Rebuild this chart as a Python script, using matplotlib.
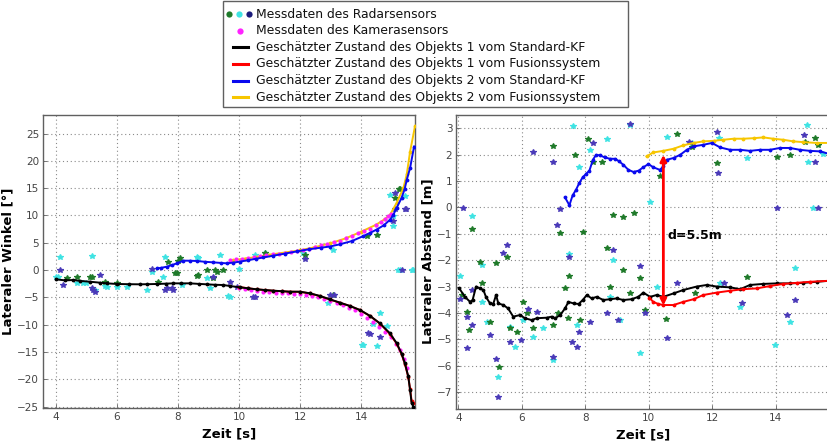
import matplotlib
matplotlib.use("Agg")
import matplotlib.pyplot as plt
from matplotlib.lines import Line2D
from matplotlib.patches import Rectangle

# ---------------- LEFT: lateral angle ----------------
L_obj1_kf_t = [4.0, 4.3, 4.57, 4.8, 5.11, 5.44, 5.66, 6.01, 6.4, 6.75, 7.0, 7.3, 7.6, 7.85, 8.1, 8.39, 8.7, 8.94, 9.2, 9.49, 9.7, 10.03, 10.3, 10.58, 10.85, 11.12, 11.4, 11.67, 12.0, 12.33, 12.66, 12.98, 13.31, 13.64, 13.97, 14.3, 14.62, 14.95, 15.17, 15.33, 15.44, 15.55, 15.61, 15.66, 15.72]
L_obj1_kf_v = [-1.71, -1.9, -1.83, -2.0, -2.14, -2.32, -2.44, -2.56, -2.6, -2.62, -2.6, -2.56, -2.5, -2.44, -2.45, -2.44, -2.55, -2.62, -2.7, -2.75, -2.93, -3.17, -3.35, -3.54, -3.66, -3.78, -3.88, -3.97, -3.97, -4.27, -4.76, -5.37, -5.98, -6.59, -7.33, -8.42, -9.77, -11.6, -13.4, -15.3, -17.1, -19.5, -22.0, -24.4, -25.0]

L_obj1_fus_t = [10.0, 10.3, 10.58, 10.85, 11.12, 11.4, 11.67, 12.0, 12.33, 12.66, 12.98, 13.31, 13.64, 13.97, 14.3, 14.62, 14.95, 15.17, 15.33, 15.44, 15.55, 15.61, 15.66, 15.72]
L_obj1_fus_v = [-3.1, -3.35, -3.54, -3.68, -3.8, -3.9, -3.98, -4.0, -4.3, -4.8, -5.4, -6.0, -6.6, -7.35, -8.45, -9.8, -11.7, -13.5, -15.4, -17.2, -19.6, -21.8, -24.0, -24.4]

L_obj2_kf_t = [7.32, 7.45, 7.63, 7.8, 7.96, 8.18, 8.4, 8.61, 8.9, 9.16, 9.4, 9.6, 9.8, 10.03, 10.3, 10.55, 10.8, 11.1, 11.5, 11.89, 12.3, 12.7, 12.98, 13.3, 13.7, 14.07, 14.3, 14.51, 14.75, 14.95, 15.06, 15.17, 15.33, 15.43, 15.5, 15.61, 15.74]
L_obj2_kf_v = [0.3, 0.4, 0.6, 0.9, 1.22, 1.71, 1.7, 1.65, 1.5, 1.4, 1.3, 1.22, 1.35, 1.53, 1.8, 2.05, 2.3, 2.6, 3.0, 3.4, 3.8, 4.1, 4.3, 4.7, 5.3, 6.2, 6.8, 7.4, 8.2, 9.2, 10.1, 11.4, 13.2, 14.8, 16.5, 18.7, 22.6]

L_obj2_fus_t = [9.8, 10.2, 10.6, 11.0, 11.5, 12.0, 12.5, 13.0, 13.5, 14.0, 14.5, 14.8, 14.95, 15.17, 15.39, 15.5, 15.61, 15.77]
L_obj2_fus_v = [1.8, 2.1, 2.4, 2.8, 3.2, 3.6, 4.2, 4.9, 5.8, 7.0, 8.3, 9.4, 10.1, 12.3, 15.0, 17.5, 21.7, 26.3]

L_cam_t = [9.7, 9.9, 10.1, 10.3, 10.5, 10.7, 10.9, 11.1, 11.3, 11.5, 11.7, 11.9, 12.1, 12.3, 12.5, 12.7, 12.9, 13.1, 13.3, 13.5, 13.7, 13.9, 14.1, 14.3, 14.5, 14.65, 14.8, 14.9, 15.0,
           10.0, 10.2, 10.4, 10.6, 10.8, 11.0, 11.2, 11.4, 11.6, 11.8, 12.0, 12.2, 12.4, 12.6, 12.8, 13.0, 13.2, 13.4, 13.6, 13.8, 14.0, 14.2, 14.4, 14.6, 14.8, 15.0, 15.15, 15.28, 15.4, 15.5]
L_cam_v = [1.8, 1.95, 2.1, 2.2, 2.3, 2.5, 2.7, 2.85, 3.0, 3.1, 3.3, 3.45, 3.6, 3.8, 4.2, 4.5, 4.8, 5.1, 5.4, 5.8, 6.2, 6.7, 7.2, 7.6, 8.3, 8.8, 9.4, 9.9, 10.3,
           -3.3, -3.5, -3.7, -3.85, -4.0, -4.1, -4.15, -4.2, -4.3, -4.35, -4.4, -4.5, -4.7, -5.0, -5.3, -5.6, -6.0, -6.4, -6.9, -7.4, -8.0, -8.7, -9.5, -10.4, -11.3, -12.3, -13.6, -14.65, -16.3, -18.0]

L_radar_green_t = [4.35, 4.68, 5.11, 5.17, 5.6, 5.99, 7.35, 7.68, 7.9, 7.96, 8.01, 8.07, 8.61, 8.67, 8.94, 9.16, 9.21, 9.27, 9.49, 10.85, 12.16, 13.09, 14.19, 14.51, 15.12, 15.23, 15.28]
L_radar_green_v = [-1.5, -1.22, -1.22, -1.22, -2.2, -2.44, -2.14, 1.53, -0.61, -0.61, 1.71, 2.14, -1.04, -0.92, 0.0, -1.53, 0.0, -0.3, 0.0, 3.17, 2.75, -4.58, 6.23, 6.35, 13.1, 14.8, 14.9]

L_radar_cyan_t = [4.0, 4.08, 4.13, 4.68, 4.9, 5.0, 5.17, 5.28, 5.61, 5.66, 5.99, 6.32, 6.97, 7.14, 7.52, 7.57, 8.12, 8.61, 8.67, 8.94, 9.05, 9.38, 9.65, 9.7, 10.01, 10.52, 10.85, 12.1, 12.93, 13.09, 14.02, 14.07, 14.4, 14.51, 14.62, 14.84, 14.95, 15.04, 15.06, 15.22, 15.28, 15.44, 15.66, 15.72]
L_radar_cyan_v = [-1.22, -1.22, 2.44, -2.44, -2.44, -2.44, 2.56, -3.66, -2.93, -3.05, -3.05, -3.05, -3.66, -0.3, -1.22, 2.32, -2.75, 2.32, 2.14, -1.53, -3.36, 2.75, -4.76, -4.88, 0.12, 2.75, 3.05, 3.05, -6.1, 3.66, -13.7, -13.7, -9.8, -14.0, -7.9, -10.3, 13.7, 9.8, 8.0, 0.0, 0.0, 13.5, 0.0, 0.0]

L_radar_navy_t = [4.13, 4.24, 5.17, 5.22, 5.28, 5.44, 7.14, 7.57, 7.63, 7.79, 7.85, 9.16, 9.7, 9.92, 10.47, 10.52, 12.16, 12.98, 13.12, 14.24, 14.3, 14.62, 15.06, 15.12, 15.12, 15.33, 15.44, 15.47]
L_radar_navy_v = [0.0, -2.75, -3.36, -3.66, -3.97, -0.92, 0.12, -3.66, -3.36, -3.3, -3.66, -1.22, -2.14, -3.05, -5.0, -4.88, 1.95, -4.58, -4.58, -11.6, -11.7, -12.2, 8.9, 11.1, 14.1, 0.0, 11.1, 11.2]

# ---------------- RIGHT: lateral distance ----------------
R_obj1_kf_t = [4.03, 4.21, 4.37, 4.45, 4.56, 4.68, 4.79, 4.87, 5.0, 5.1, 5.19, 5.26, 5.42, 5.57, 5.73, 5.94, 6.1, 6.31, 6.47, 6.79, 6.94, 7.05, 7.21, 7.36, 7.47, 7.63, 7.79, 7.92, 8.05, 8.2, 8.36, 8.57, 8.78, 8.99, 9.2, 9.46, 9.67, 9.83, 10.04, 10.25, 10.46, 10.78, 11.09, 11.51, 11.83, 12.14, 12.56, 12.88, 13.19, 13.61, 14.03, 14.45, 14.87, 15.29, 15.7]
R_obj1_kf_v = [-3.07, -3.39, -3.58, -3.51, -3.0, -3.07, -3.13, -3.39, -3.64, -3.66, -3.32, -3.64, -3.7, -3.83, -4.14, -4.08, -4.2, -4.27, -4.2, -4.18, -4.14, -4.2, -4.08, -3.83, -3.58, -3.64, -3.66, -3.51, -3.32, -3.45, -3.39, -3.51, -3.48, -3.45, -3.51, -3.48, -3.39, -3.23, -3.39, -3.32, -3.39, -3.26, -3.13, -3.0, -2.94, -3.0, -3.03, -3.1, -2.94, -2.9, -2.88, -2.88, -2.86, -2.82, -2.78]

R_obj1_fus_t = [10.02, 10.14, 10.3, 10.46, 10.78, 11.09, 11.41, 11.72, 12.14, 12.56, 12.98, 13.4, 13.82, 14.24, 14.66, 15.08, 15.7]
R_obj1_fus_v = [-3.42, -3.58, -3.66, -3.7, -3.7, -3.58, -3.48, -3.32, -3.23, -3.16, -3.1, -3.07, -2.98, -2.9, -2.86, -2.82, -2.78]

R_obj2_kf_t = [7.36, 7.5, 7.6, 7.71, 7.81, 7.92, 8.02, 8.13, 8.24, 8.34, 8.46, 8.62, 8.78, 8.94, 9.07, 9.2, 9.36, 9.52, 9.68, 9.83, 9.99, 10.14, 10.35, 10.46, 10.56, 10.78, 10.99, 11.2, 11.41, 11.72, 11.99, 12.25, 12.56, 12.88, 13.19, 13.5, 13.82, 14.13, 14.45, 14.76, 15.08, 15.4, 15.7]
R_obj2_kf_v = [0.38, 0.08, 0.45, 0.67, 0.92, 1.14, 1.26, 1.39, 1.8, 1.99, 1.97, 1.89, 1.84, 1.84, 1.74, 1.61, 1.42, 1.34, 1.39, 1.52, 1.64, 1.52, 1.42, 1.55, 1.8, 1.87, 1.99, 2.18, 2.31, 2.37, 2.44, 2.27, 2.18, 2.18, 2.14, 2.18, 2.18, 2.25, 2.25, 2.18, 2.14, 2.12, 2.02]

R_obj2_fus_t = [9.93, 10.14, 10.46, 10.78, 11.09, 11.41, 11.72, 12.04, 12.35, 12.67, 12.98, 13.3, 13.61, 13.92, 14.24, 14.55, 14.87, 15.29, 15.7]
R_obj2_fus_v = [1.93, 2.08, 2.14, 2.22, 2.35, 2.44, 2.5, 2.52, 2.56, 2.6, 2.6, 2.62, 2.65, 2.6, 2.56, 2.5, 2.47, 2.44, 2.44]

R_radar_green_t = [4.11, 4.26, 4.35, 4.42, 4.68, 4.76, 5.0, 5.19, 5.29, 5.52, 5.63, 5.84, 6.05, 6.16, 6.36, 6.99, 6.99, 7.15, 7.2, 7.36, 7.47, 7.5, 7.68, 7.84, 7.92, 8.1, 8.25, 8.52, 8.67, 8.78, 8.88, 9.2, 9.2, 9.41, 9.52, 9.73, 9.89, 10.36, 10.55, 10.88, 11.36, 11.46, 12.14, 13.08, 14.03, 14.45, 14.92, 15.24, 15.34]
R_radar_green_v = [-3.32, -3.95, -4.65, -0.83, -2.06, -2.88, -4.33, -2.12, -6.04, -1.87, -4.58, -4.71, -3.57, -4.02, -4.58, 2.32, -4.46, -4.02, -0.96, -3.07, -4.2, -2.59, 1.98, -4.27, -0.92, 2.58, 1.73, 1.73, -1.55, -3.01, -0.29, -0.36, -2.37, -3.26, -0.23, -2.69, -3.89, 1.19, -4.24, 2.78, 2.3, -3.26, 1.67, -2.62, 1.92, 1.98, 2.48, 2.61, 2.35]

R_radar_cyan_t = [4.05, 4.42, 4.74, 4.74, 4.89, 5.26, 5.63, 5.79, 6.05, 6.36, 6.68, 6.99, 7.5, 7.62, 7.73, 7.81, 8.15, 8.67, 8.78, 8.88, 9.09, 9.41, 9.73, 10.04, 10.25, 10.57, 11.36, 12.2, 12.25, 12.88, 13.08, 13.97, 14.45, 14.61, 14.98, 15.03, 15.19, 15.5]
R_radar_cyan_v = [-2.59, -0.33, -2.19, -3.57, -4.33, -6.42, -4.52, -5.28, -4.27, -4.9, -4.58, -5.78, -1.77, 3.08, -4.46, 1.52, 2.17, 2.58, -3.39, -2.01, -4.27, 3.12, -5.53, 0.21, -3.01, 2.65, 2.42, 2.61, -2.88, -3.77, 1.86, -5.22, -4.33, -2.31, 3.12, 1.73, -0.02, 2.04]

R_radar_navy_t = [4.05, 4.16, 4.26, 4.28, 4.42, 4.42, 5.0, 5.19, 5.26, 5.42, 5.52, 5.63, 5.99, 6.2, 6.36, 6.47, 6.99, 6.99, 7.1, 7.2, 7.5, 7.58, 7.73, 7.8, 8.15, 8.25, 8.67, 8.88, 9.04, 9.41, 9.73, 9.89, 10.57, 10.88, 11.28, 12.14, 12.17, 12.36, 12.94, 14.03, 14.35, 14.61, 14.88, 15.24, 15.34]
R_radar_navy_v = [-3.48, -0.04, -4.14, -5.34, -4.46, -3.13, -4.84, -5.76, -7.17, -1.74, -1.43, -5.09, -5.03, -3.86, 2.11, -3.95, 1.73, -5.66, -0.67, -0.08, -1.87, -5.09, -5.3, -4.71, -4.33, 2.42, -4.02, -1.62, -4.27, 3.16, -2.22, -4.02, -4.96, -2.88, 2.48, 2.86, 1.29, -2.88, -3.61, -0.02, -4.08, -3.51, 2.74, 1.73, -0.02]

arrow_t = 10.46
arrow_from = -3.72
arrow_to = 1.99
arrow_label = "d=5.5m"
arrow_label_v = -1.05

legend_labels = ["Messdaten des Radarsensors",
                 "Messdaten des Kamerasensors",
                 "Geschätzter Zustand des Objekts 1 vom Standard-KF",
                 "Geschätzter Zustand des Objekts 1 vom Fusionssystem",
                 "Geschätzter Zustand des Objekts 2 vom Standard-KF",
                 "Geschätzter Zustand des Objekts 2 vom Fusionssystem"]

# ---------------- style ----------------
C_GREEN = "#1f7a2a"
C_CYAN = "#3fe3e3"
C_NAVY = "#4a3ab8"
C_MAG = "#ff22ff"
C_BLACK = "#000000"
C_RED = "#ff0000"
C_BLUE = "#0a0aee"
C_YEL = "#f7c600"

plt.rcParams['font.family'] = ['DejaVu Sans']
W, H = 828, 447
fig = plt.figure(figsize=(W / 100, H / 100), dpi=100)


def px_rect(l, t, r, b):
    return [l / W, 1 - b / H, (r - l) / W, (b - t) / H]


def style_axes(ax):
    for s in ax.spines.values():
        s.set_color("#606060")
        s.set_linewidth(1.0)
    ax.tick_params(direction="in", length=3, width=0.6, colors="#606060",
                   labelsize=7.5, labelcolor="#444444", pad=3)
    ax.grid(True, linestyle=(0, (1, 2.5)), color="#8a8a8a", linewidth=0.8)
    ax.set_axisbelow(True)


def radar(ax, t, v, c):
    ax.plot(t, v, linestyle="none", marker="*", markersize=4.0, color=c,
            markeredgewidth=0.9, zorder=2)


def track(ax, t, v, c, z=3, ms=3.5):
    ax.plot(t, v, "-", color=c, linewidth=1.4, marker=".", markersize=ms, zorder=z)


# left
axL = fig.add_axes(px_rect(43.3, 114.5, 415.5, 407.5))
style_axes(axL)
radar(axL, L_radar_cyan_t, L_radar_cyan_v, C_CYAN)
radar(axL, L_radar_green_t, L_radar_green_v, C_GREEN)
radar(axL, L_radar_navy_t, L_radar_navy_v, C_NAVY)
track(axL, L_obj2_fus_t, L_obj2_fus_v, C_YEL, z=3)
axL.plot(L_cam_t, L_cam_v, linestyle="none", marker="o", markersize=3.0,
         color=C_MAG, markeredgewidth=0, zorder=3.5)
track(axL, L_obj1_fus_t, L_obj1_fus_v, C_RED, z=3.6)
track(axL, L_obj1_kf_t, L_obj1_kf_v, C_BLACK, z=3.7)
track(axL, L_obj2_kf_t, L_obj2_kf_v, C_BLUE, z=3.8)
axL.set_xlim(3.584, 15.787)
axL.set_ylim(-25.18, 28.48)
axL.set_xticks([4, 6, 8, 10, 12, 14])
axL.set_yticks([-25, -20, -15, -10, -5, 0, 5, 10, 15, 20, 25])
axL.set_xlabel("Zeit [s]", fontsize=9.5, fontweight="bold", labelpad=4)
axL.set_ylabel("Lateraler Winkel [°]", fontsize=9.5, fontweight="bold", labelpad=2)

# right
axR = fig.add_axes(px_rect(456.5, 114.7, 830, 408.5))
style_axes(axR)
radar(axR, R_radar_cyan_t, R_radar_cyan_v, C_CYAN)
radar(axR, R_radar_green_t, R_radar_green_v, C_GREEN)
radar(axR, R_radar_navy_t, R_radar_navy_v, C_NAVY)
track(axR, R_obj2_fus_t, R_obj2_fus_v, C_YEL, z=3)
track(axR, R_obj2_kf_t, R_obj2_kf_v, C_BLUE, z=3.2)
track(axR, R_obj1_kf_t, R_obj1_kf_v, C_BLACK, z=3.3)
track(axR, R_obj1_fus_t, R_obj1_fus_v, C_RED, z=3.4)
axR.annotate("", xy=(arrow_t, arrow_to), xytext=(arrow_t, arrow_from),
             arrowprops=dict(arrowstyle="<|-|>", color=C_RED, lw=2,
                             mutation_scale=9, shrinkA=0, shrinkB=0), zorder=5)
axR.text(arrow_t + 0.12, arrow_label_v, arrow_label,
         fontsize=9, fontweight="bold", va="center", ha="left", zorder=5)
axR.set_xlim(3.943, 15.71)
axR.set_ylim(-7.62, 3.51)
axR.set_xticks([4, 6, 8, 10, 12, 14])
axR.set_yticks(list(range(-7, 4)))
axR.set_xlabel("Zeit [s]", fontsize=9.5, fontweight="bold", labelpad=4)
axR.set_ylabel("Lateraler Abstand [m]", fontsize=9.5, fontweight="bold", labelpad=2)

# legend (manual, in pixel positions)
fig.add_artist(Rectangle((223.3 / W, 1 - 107.3 / H), (628.3 - 223.3) / W, (107.3 - 1.0) / H,
                         transform=fig.transFigure, facecolor="white",
                         edgecolor="#606060", linewidth=1.0, zorder=10))
rows_y = [14, 30.7, 47.3, 64, 80.7, 97.3]
for i, lab in enumerate(legend_labels):
    y = 1 - rows_y[i] / H
    fig.text(256.5 / W, y, lab, fontsize=8.9, va="center", ha="left",
             color="#111111", zorder=11)
for x, c in zip([229, 239.5, 249], [C_GREEN, C_CYAN, "#1a1a7a"]):
    fig.add_artist(Line2D([x / W], [1 - rows_y[0] / H], marker="o", markersize=4.5,
                          color=c, markeredgewidth=0, transform=fig.transFigure, zorder=11))
fig.add_artist(Line2D([240 / W], [1 - rows_y[1] / H], marker="o", markersize=4.5,
                      color=C_MAG, markeredgewidth=0, transform=fig.transFigure, zorder=11))
for i, c in zip(range(2, 6), [C_BLACK, C_RED, C_BLUE, C_YEL]):
    y = 1 - rows_y[i] / H
    fig.add_artist(Line2D([233 / W, 248 / W], [y, y], color=c, linewidth=2.2,
                          transform=fig.transFigure, zorder=11))

fig.savefig("out.png", dpi=100)
